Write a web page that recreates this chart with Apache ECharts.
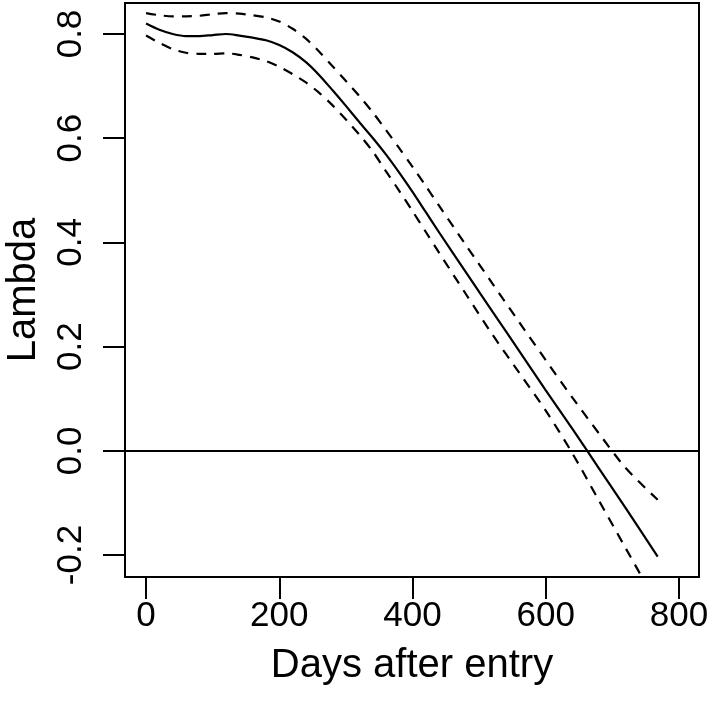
<!DOCTYPE html>
<html>
<head>
<meta charset="utf-8">
<script src="https://cdn.jsdelivr.net/npm/echarts@6/dist/echarts.min.js"></script>
<style>
  html, body { margin: 0; padding: 0; background: #fff; }
  #chart { width: 709px; height: 709px; }
</style>
</head>
<body>
<div id="chart"></div>
<script>
// days after entry
const days = [0, 20, 40, 60, 80, 100, 120, 140, 160, 180, 200, 220, 240, 260, 280, 300,
  320, 340, 360, 380, 400, 420, 440, 480, 520, 560, 600, 640, 680, 720, 768];
// estimated lambda
const lambda = [0.820, 0.808, 0.800, 0.796, 0.796, 0.798, 0.800, 0.797, 0.793, 0.788, 0.779,
  0.765, 0.746, 0.721, 0.692, 0.662, 0.631, 0.601, 0.569, 0.534, 0.497, 0.458, 0.419,
  0.343, 0.267, 0.192, 0.116, 0.042, -0.034, -0.110, -0.203];
// upper / lower confidence band
const upper = [0.840, 0.836, 0.834, 0.834, 0.835, 0.838, 0.840, 0.839, 0.836, 0.832, 0.824,
  0.810, 0.791, 0.766, 0.738, 0.710, 0.681, 0.650, 0.616, 0.581, 0.545, 0.508, 0.470,
  0.395, 0.321, 0.247, 0.174, 0.102, 0.033, -0.033, -0.094];
const lower = [0.797, 0.783, 0.771, 0.764, 0.762, 0.762, 0.763, 0.760, 0.755, 0.748, 0.737,
  0.723, 0.707, 0.687, 0.663, 0.636, 0.607, 0.575, 0.537, 0.499, 0.460, 0.420, 0.380,
  0.301, 0.223, 0.150, 0.077, -0.005, -0.096, -0.187, -0.296];

const xTicks = [0, 200, 400, 600, 800];
const yTicks = [-0.2, 0, 0.2, 0.4, 0.6, 0.8];

function pairs(ys) {
  return days.map(function (d, i) { return [d, ys[i]]; });
}

const font = "Liberation Sans, Arial, sans-serif";
const myChart = echarts.init(document.getElementById("chart"));
const option = {
  animation: false,
  backgroundColor: "#fff",
  grid: {
    left: 125, top: 3, right: 10, bottom: 132,
    show: true, borderColor: "#000", borderWidth: 2,
    outerBoundsMode: "none"
  },
  xAxis: {
    type: "value",
    min: -31.6,
    max: 830,
    name: "Days after entry",
    nameLocation: "middle",
    nameGap: 69,
    nameTextStyle: { color: "#000", fontSize: 40, fontFamily: font },
    axisLine: { show: false, onZero: false },
    splitLine: { show: false },
    axisTick: { show: true, length: 22, customValues: xTicks, lineStyle: { color: "#000", width: 2 } },
    axisLabel: { customValues: xTicks, color: "#000", fontSize: 35, fontFamily: font, margin: 22 }
  },
  yAxis: {
    type: "value",
    min: -0.2422,
    max: 0.8595,
    name: "Lambda",
    nameLocation: "middle",
    nameRotate: 90,
    nameGap: 81,
    nameTextStyle: { color: "#000", fontSize: 40, fontFamily: font },
    axisLine: { show: false, onZero: false },
    splitLine: { show: false },
    axisTick: { show: true, length: 22, customValues: yTicks, lineStyle: { color: "#000", width: 2 } },
    axisLabel: {
      customValues: yTicks, rotate: 90, color: "#000", fontSize: 35, fontFamily: font, margin: 36,
      formatter: function (v) { return v.toFixed(1); }
    }
  },
  series: [
    {
      type: "line",
      data: pairs(lambda),
      smooth: 0.3,
      showSymbol: false,
      lineStyle: { color: "#000", width: 2.2 },
      markLine: {
        silent: true,
        symbol: "none",
        label: { show: false },
        lineStyle: { color: "#000", width: 2, type: "solid" },
        data: [{ yAxis: 0 }]
      }
    },
    {
      type: "line",
      data: pairs(upper),
      smooth: 0.3,
      showSymbol: false,
      lineStyle: { color: "#000", width: 2.2, type: [10, 8] }
    },
    {
      type: "line",
      data: pairs(lower),
      smooth: 0.3,
      showSymbol: false,
      lineStyle: { color: "#000", width: 2.2, type: [10, 8] }
    }
  ]
};
myChart.setOption(option);

window.addEventListener("resize", function () {
  myChart.resize();
});
</script>
</body>
</html>
